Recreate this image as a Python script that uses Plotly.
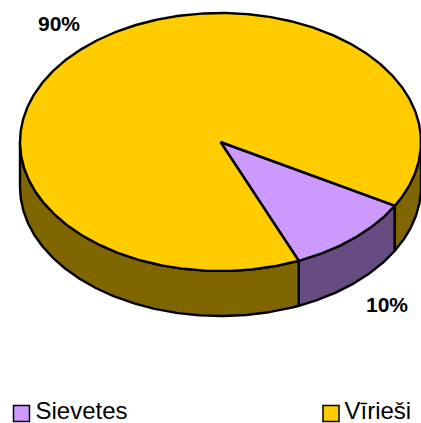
import numpy as np
import plotly.graph_objects as go

categories = ["Sievetes", "Vīrieši"]
values = [10.4, 89.6]
percent_labels = ["10%", "90%"]
top_colors = ["#CC99FF", "#FFCC00"]
wall_colors = ["#664C80", "#806600"]

W, H = 421, 423
CX, CY, RX, RY, DEPTH = 220.5, 142, 200.5, 129, 45
START = 29.6  # degrees, clockwise on screen from the +x axis
LINE = dict(color="black", width=2.4)

total = sum(values)
spans = [v / total * 360 for v in values]


def arc(a0, a1, dy=0.0):
    t = np.radians(np.linspace(a0, a1, max(2, int(abs(a1 - a0) * 2) + 1)))
    return CX + RX * np.cos(t), CY + RY * np.sin(t) + dy


fig = go.Figure()


def poly(xs, ys, color):
    fig.add_trace(go.Scatter(x=xs, y=ys, mode="lines", fill="toself", fillcolor=color,
                             line=LINE, hoverinfo="skip", showlegend=False, cliponaxis=False))


# side walls: only the front half (0..180 degrees on screen) is visible
a = START
slices = []
for i, s in enumerate(spans):
    slices.append((a, a + s, i))
    a += s
for a0, a1, i in slices:
    for lo, hi in ((a0, a1), (a0 - 360, a1 - 360)):
        l, h = max(lo, 0), min(hi, 180)
        if l < h:
            x1, y1 = arc(l, h)
            x2, y2 = arc(h, l, DEPTH)
            poly(np.r_[x1, x2, x1[0]], np.r_[y1, y2, y1[0]], wall_colors[i])

# top faces
for a0, a1, i in slices:
    x1, y1 = arc(a0, a1)
    poly(np.r_[CX, x1, CX], np.r_[CY, y1, CY], top_colors[i])

# percentage labels
label_x = [387, 59]
label_y = [306.5, 25.5]
fig.add_trace(go.Scatter(x=label_x, y=label_y, mode="text", text=percent_labels,
                         textposition="middle center", hoverinfo="skip", showlegend=False,
                         cliponaxis=False,
                         textfont=dict(family="Liberation Sans", size=21, color="black", weight="bold")))

# legend
legend_x = [21.5, 331]
legend_text_x = [35.5, 344.5]
legend_marker_y = [413.5, 413.5]
legend_text_y = [412.5, 412.5]
for i, c in enumerate(categories):
    fig.add_trace(go.Scatter(x=[legend_x[i]], y=[legend_marker_y[i]], mode="markers", hoverinfo="skip",
                             showlegend=False, cliponaxis=False,
                             marker=dict(symbol="square", size=16, color=top_colors[i],
                                         line=dict(color="black", width=1.5))))
    fig.add_trace(go.Scatter(x=[legend_text_x[i]], y=[legend_text_y[i]], mode="text", text=[c],
                             textposition="middle right", hoverinfo="skip", showlegend=False,
                             cliponaxis=False,
                             textfont=dict(family="Liberation Sans", size=24, color="black")))

fig.update_layout(width=W, height=H, margin=dict(l=0, r=0, t=0, b=0),
                  paper_bgcolor="white", plot_bgcolor="white", showlegend=False,
                  xaxis=dict(range=[0, W], visible=False, fixedrange=True),
                  yaxis=dict(range=[H, 0], visible=False, fixedrange=True))
fig.write_html("out.html", config={"displayModeBar": False},
               post_script="document.body.style.margin='0';document.body.style.overflow='hidden';")
